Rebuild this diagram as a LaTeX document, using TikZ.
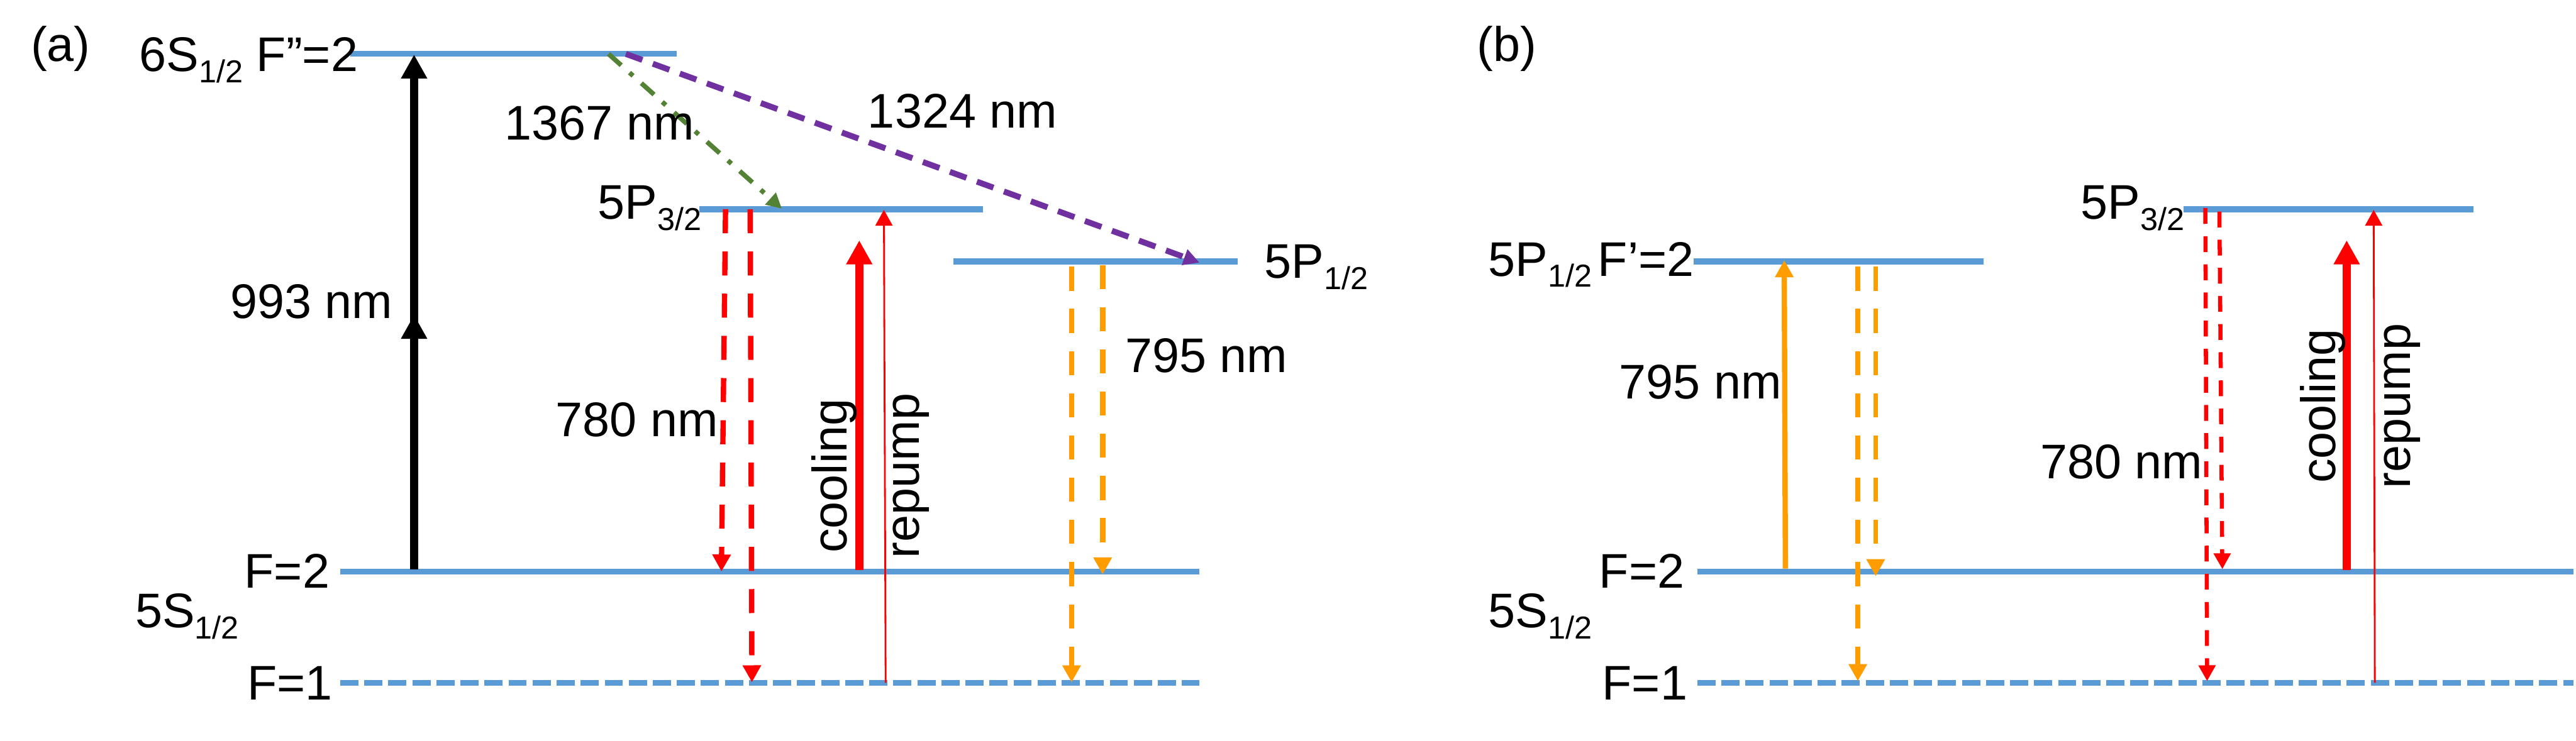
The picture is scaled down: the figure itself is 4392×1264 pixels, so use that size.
\documentclass[tikz,border=0pt]{standalone}
\usepackage{fontspec}
\setmainfont{Liberation Sans}
\usetikzlibrary{arrows.meta}

\definecolor{lvlblue}{HTML}{5B9BD5}
\definecolor{decayorange}{HTML}{FF9C00}
\definecolor{decaygreen}{HTML}{548235}
\definecolor{decaypurple}{HTML}{7030A0}

\newcommand{\lsub}[1]{\raisebox{-1.9mm}{\fontsize{15.4}{18}\selectfont #1}}

\tikzset{
    lvl/.style={inner sep=0pt, outer sep=0pt, minimum height=0pt},
    lvlline/.style={draw=lvlblue, line width=1mm},
    lbl/.style={inner sep=0pt, anchor=base west, font=\fontsize{23.6}{28}\selectfont},
    vlbl/.style={lbl, rotate=90},
    big/.style={-{Triangle[length=4.1mm,width=4.2mm]}, line width=1.4mm},
    small/.style={-{Triangle[length=2.9mm,width=3mm]}},
    thinred/.style={red, line width=0.3mm, -{Triangle[length=2.7mm,width=2.9mm]}},
    longdash/.style={small, dash pattern=on 4.1mm off 3.1mm},
    shortdash/.style={dash pattern=on 2.7mm off 2.1mm, line width=0.7mm, -{Triangle[length=2.7mm,width=2.8mm]}},
}

\begin{document}
\begin{tikzpicture}[x=0.1mm, y=-0.1mm]
    \useasboundingbox (0,0) rectangle (4392,1264);

    % levels (a)
    \node[lvl, minimum width=55.7mm] (a6S) at (875.5,92) {};
    \node[lvl, minimum width=48.4mm] (aP3) at (1434,357) {};
    \node[lvl, minimum width=48.5mm] (aP1) at (1867.5,446) {};
    \node[lvl, minimum width=146.5mm] (aF2) at (1312.5,975) {};
    \node[lvl, minimum width=146.5mm] (aF1) at (1312.5,1165) {};
    % levels (b)
    \node[lvl, minimum width=49.4mm] (bP1) at (3135,446) {};
    \node[lvl, minimum width=49.4mm] (bP3) at (3970,357) {};
    \node[lvl, minimum width=149.4mm] (bF2) at (3641,975) {};
    \node[lvl, minimum width=149.4mm] (bF1) at (3641,1165) {};

    \foreach \lv in {a6S,aP3,aP1,aF2,bP1,bP3,bF2}
        \draw[lvlline] (\lv.west) -- (\lv.east);
    \foreach \lv in {aF1,bF1}
        \draw[lvlline, dash pattern=on 3.1mm off 1mm] (\lv.west) -- (\lv.east);

    % end points (a)
    \coordinate (aBs) at (706,972);
    \coordinate (aBm) at (706,537);
    \coordinate (aBe) at (706,93);
    \coordinate (aGs) at (1037.5,92);
    \coordinate (aGe) at (1333,356);
    \coordinate (aVs) at (1067,92);
    \coordinate (aVe) at (2045,448);
    \coordinate (aR1s) at (1237,357);
    \coordinate (aR1e) at (1230,975);
    \coordinate (aR2s) at (1279,357);
    \coordinate (aR2e) at (1282,1164);
    \coordinate (aCs) at (1465,973);
    \coordinate (aCe) at (1465,410);
    \coordinate (aUs) at (1510,1165);
    \coordinate (aUe) at (1507,358);
    \coordinate (aO1s) at (1827,455);
    \coordinate (aO1e) at (1827,1164);
    \coordinate (aO2s) at (1880,452);
    \coordinate (aO2e) at (1880,980);

    % end points (b)
    \coordinate (bOs) at (3044,970);
    \coordinate (bOe) at (3042,444);
    \coordinate (bO1s) at (3167.5,455);
    \coordinate (bO1e) at (3167.5,1162);
    \coordinate (bO2s) at (3198,455);
    \coordinate (bO2e) at (3198,983);
    \coordinate (bR1s) at (3760,355);
    \coordinate (bR1e) at (3763,1162);
    \coordinate (bR2s) at (3784,361);
    \coordinate (bR2e) at (3789,971);
    \coordinate (bCs) at (4001,973);
    \coordinate (bCe) at (4001,410);
    \coordinate (bUs) at (4049,1165);
    \coordinate (bUe) at (4047,358);

    \path
    (aBs) edge [big, black] (aBe)
    (aBs) edge [big, black] (aBm)
    (aGs) edge [decaygreen, line width=0.8mm, dash pattern=on 2.9mm off 1.9mm on 0.8mm off 1.9mm,
                -{Triangle[length=2.6mm,width=2.6mm]}] (aGe)
    (aVs) edge [decaypurple, line width=1mm, dash pattern=on 3mm off 1.9mm,
                -{Triangle[length=2.7mm,width=2.7mm]}] (aVe)
    (aR1s) edge [red, longdash, line width=0.9mm] (aR1e)
    (aR2s) edge [red, longdash, line width=0.9mm] (aR2e)
    (aCs) edge [big, red] (aCe)
    (aUs) edge [thinred] (aUe)
    (aO1s) edge [decayorange, longdash, line width=0.9mm] (aO1e)
    (aO2s) edge [decayorange, longdash, line width=0.9mm] (aO2e)
    (bOs) edge [decayorange, small, line width=0.9mm] (bOe)
    (bO1s) edge [decayorange, longdash, line width=0.8mm] (bO1e)
    (bO2s) edge [decayorange, longdash, line width=0.8mm] (bO2e)
    (bR1s) edge [red, shortdash] (bR1e)
    (bR2s) edge [red, shortdash] (bR2e)
    (bCs) edge [big, red] (bCe)
    (bUs) edge [thinred] (bUe);

    % labels (a)
    \node[lbl] (aTag) at (52,105) {(a)};
    \node[lbl] (a6Sl) at (237,122) {6S\lsub{1/2} F”=2};
    \node[lbl] (aGl) at (860,239) {1367 nm};
    \node[lbl] (aVl) at (1479,218) {1324 nm};
    \node[lbl] (aBl) at (392,543) {993 nm};
    \node[lbl] (aP3l) at (1019,374) {5P\lsub{3/2}};
    \node[lbl] (aP1l) at (2155,475) {5P\lsub{1/2}};
    \node[lbl] (aOl) at (1918,635) {795 nm};
    \node[lbl] (aRl) at (947,745) {780 nm};
    \node[lbl] (aF2l) at (416,1003) {F=2};
    \node[lbl] (a5Sl) at (230,1071) {5S\lsub{1/2}};
    \node[lbl] (aF1l) at (421,1194) {F=1};
    \node[vlbl] (aCl) at (1444,944) {cooling};
    \node[vlbl] (aUl) at (1567,953) {repump};

    % labels (b)
    \node[lbl] (bTag) at (2518,105) {(b)};
    \node[lbl] (bP1l) at (2537,471) {5P\lsub{1/2}\hspace{1mm}F’=2};
    \node[lbl] (bP3l) at (3547,374) {5P\lsub{3/2}};
    \node[lbl] (bOl) at (2760,680) {795 nm};
    \node[lbl] (bRl) at (3478,816) {780 nm};
    \node[lbl] (bF2l) at (2726,1003) {F=2};
    \node[lbl] (b5Sl) at (2537,1071) {5S\lsub{1/2}};
    \node[lbl] (bF1l) at (2731,1194) {F=1};
    \node[vlbl] (bCl) at (3982,825) {cooling};
    \node[vlbl] (bUl) at (4109,834) {repump};
\end{tikzpicture}
\end{document}
